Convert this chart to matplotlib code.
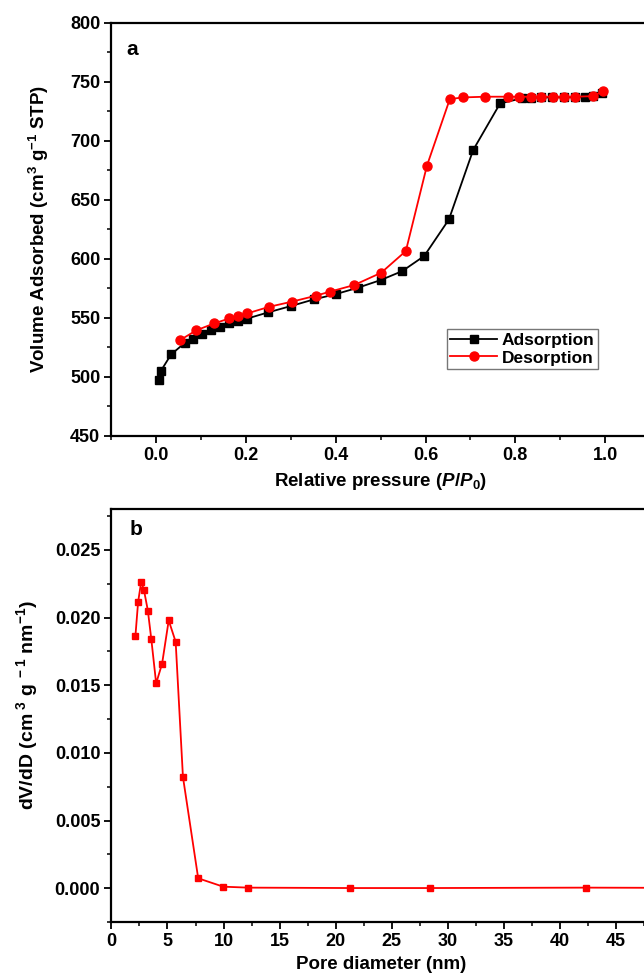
import matplotlib
matplotlib.use('Agg')
import matplotlib.pyplot as plt
from matplotlib.ticker import MultipleLocator, FormatStrFormatter

plt.rcParams['font.family'] = ['Liberation Sans', 'DejaVu Sans']
plt.rcParams['font.weight'] = 'bold'
plt.rcParams['mathtext.fontset'] = 'custom'
plt.rcParams['mathtext.rm'] = 'Liberation Sans:bold'
plt.rcParams['mathtext.bf'] = 'Liberation Sans:bold'
plt.rcParams['mathtext.it'] = 'Liberation Sans:bold:italic'
plt.rcParams['mathtext.default'] = 'bf'

# (a) N2 isotherm
ads_p = [0.005, 0.010, 0.033, 0.064, 0.081, 0.101, 0.121, 0.142, 0.161, 0.182,
         0.201, 0.249, 0.300, 0.351, 0.400, 0.449, 0.500, 0.548, 0.597, 0.652,
         0.706, 0.766, 0.814, 0.835, 0.858, 0.882, 0.909, 0.934, 0.955, 0.974, 0.993]
ads_v = [497.2, 504.8, 518.9, 528.8, 531.6, 535.9, 539.3, 542.1, 545.2, 547.2,
         549.1, 554.5, 559.9, 565.5, 570.0, 575.4, 581.9, 589.5, 602.3, 633.3,
         692.1, 731.6, 735.9, 736.5, 736.7, 736.7, 736.8, 736.9, 737.0, 737.8, 740.5]
des_p = [0.052, 0.089, 0.129, 0.163, 0.183, 0.203, 0.252, 0.302, 0.355, 0.386,
         0.441, 0.501, 0.556, 0.603, 0.654, 0.684, 0.733, 0.783, 0.808, 0.834,
         0.858, 0.883, 0.909, 0.934, 0.974, 0.995]
des_v = [530.8, 539.3, 545.2, 549.4, 551.7, 553.7, 559.3, 563.6, 568.6, 572.0,
         577.7, 588.1, 606.5, 678.8, 735.3, 736.7, 737.3, 737.3, 737.3, 737.3,
         737.3, 737.3, 737.3, 737.3, 737.8, 742.0]

# (b) pore size distribution
pore_d = [2.14, 2.38, 2.66, 2.91, 3.25, 3.56, 3.99, 4.52, 5.11, 5.73,
          6.38, 7.74, 9.97, 12.19, 21.29, 28.44, 42.34, 56.0]
dvdd = [0.01863, 0.02114, 0.02266, 0.02200, 0.02052, 0.01839, 0.01514, 0.01659,
        0.01979, 0.01821, 0.00823, 0.00074, 0.00012, 0.00005, 0.00002, 0.00002,
        0.00005, 0.00002]

fig = plt.figure(figsize=(6.44, 9.75), dpi=100)
ax1 = fig.add_axes([0.173, 0.5531, 0.8363, 0.4236])
ax2 = fig.add_axes([0.173, 0.0542, 0.8705, 0.4235])

ax1.plot(ads_p, ads_v, '-s', color='black', lw=1.3, ms=5.5, label='Adsorption', zorder=3)
ax1.plot(des_p, des_v, '-o', color='red', lw=1.3, ms=6.5, label='Desorption', zorder=4)
ax1.set_xlim(-0.1, 1.1)
ax1.set_ylim(450, 800)
ax1.set_xticks([0.0, 0.2, 0.4, 0.6, 0.8, 1.0])
ax1.xaxis.set_minor_locator(MultipleLocator(0.1))
ax1.xaxis.set_major_formatter(FormatStrFormatter('%.1f'))
ax1.yaxis.set_major_locator(MultipleLocator(50))
ax1.yaxis.set_minor_locator(MultipleLocator(25))
ax1.set_xlabel('Relative pressure ($\\mathit{P/P_0}$)', fontsize=13.5, fontweight='bold')
ax1.set_ylabel('Volume Adsorbed (cm$^{3}$ g$^{-1}$ STP)', fontsize=13.5, fontweight='bold')
ax1.xaxis.set_label_coords(0.5, -0.086)
ax1.yaxis.set_label_coords(-0.112, 0.5)
ax1.text(0.027, 0.934, 'a', transform=ax1.transAxes, fontsize=15, fontweight='bold',
         va='center', ha='left')
leg = ax1.legend(loc='upper left', bbox_to_anchor=(0.623, 0.258), borderaxespad=0,
                 fontsize=12.5, frameon=True, fancybox=False, handlelength=2.7,
                 handletextpad=0.25, borderpad=0.2, labelspacing=0.15)
leg.get_frame().set_edgecolor('#555555')
leg.get_frame().set_linewidth(1.0)

ax2.plot(pore_d, dvdd, '-s', color='red', lw=1.3, ms=5, zorder=3)
ax2.set_xlim(0, 50)
ax2.set_ylim(-0.0025, 0.028)
ax2.set_xticks(list(range(0, 50, 5)))
ax2.xaxis.set_minor_locator(MultipleLocator(2.5))
ax2.yaxis.set_major_locator(MultipleLocator(0.005))
ax2.yaxis.set_minor_locator(MultipleLocator(0.0025))
ax2.yaxis.set_major_formatter(FormatStrFormatter('%.3f'))
ax2.set_xlabel('Pore diameter (nm)', fontsize=13.5, fontweight='bold')
ax2.set_ylabel('dV/dD (cm$^{\\ 3}$ g$^{\\ -1}$ nm$^{-1}$)', fontsize=14, fontweight='bold')
ax2.xaxis.set_label_coords(0.481, -0.082)
ax2.yaxis.set_label_coords(-0.127, 0.526)
ax2.text(0.032, 0.952, 'b', transform=ax2.transAxes, fontsize=15, fontweight='bold',
         va='center', ha='left')

for ax in (ax1, ax2):
    for s in ax.spines.values():
        s.set_linewidth(1.6)
    ax.tick_params(which='major', direction='out', length=5, width=1.3, labelsize=13, pad=3)
    ax.tick_params(which='minor', direction='out', length=3, width=1.1)
    for lab in ax.get_xticklabels() + ax.get_yticklabels():
        lab.set_fontweight('bold')

fig.savefig('out.png', dpi=100)
